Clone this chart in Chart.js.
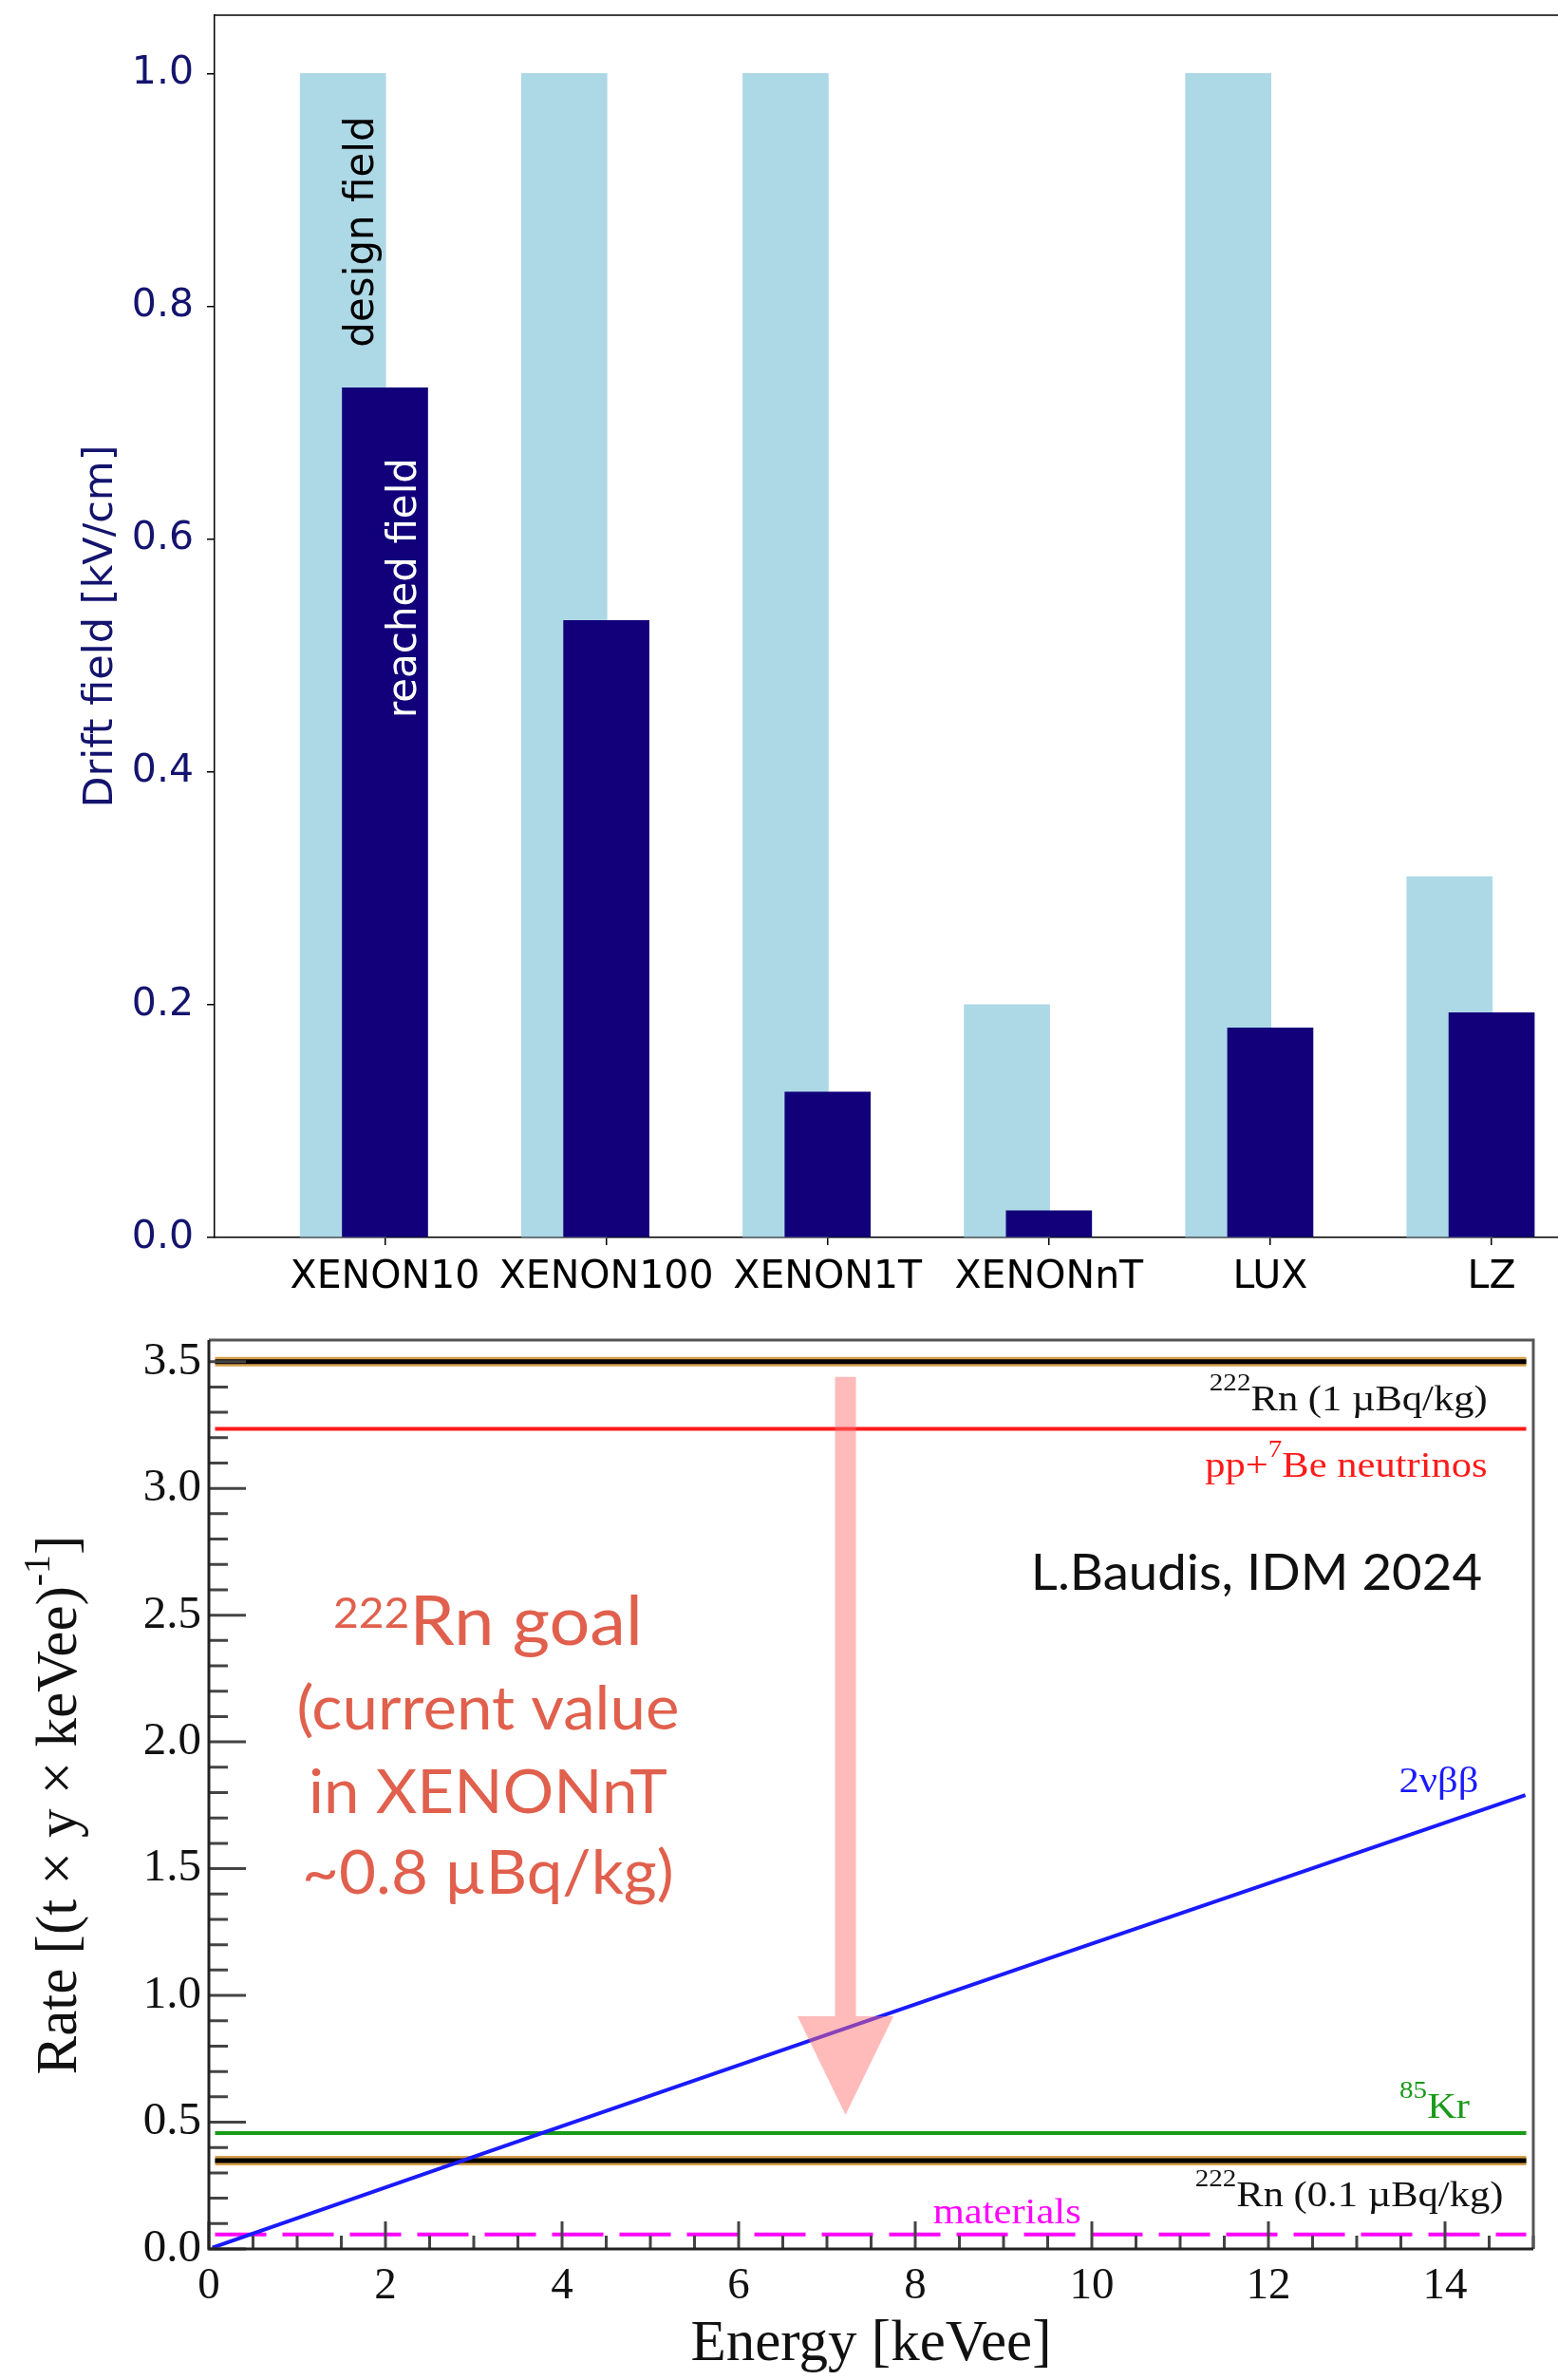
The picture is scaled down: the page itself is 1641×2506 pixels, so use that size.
<!DOCTYPE html>
<html>
<head>
<meta charset="utf-8">
<title>Drift fields and background rates</title>
<script src="https://cdn.jsdelivr.net/npm/chart.js@4.4.1/dist/chart.umd.min.js"></script>
<style>
  html, body { margin: 0; padding: 0; background: #fff; }
  #page { position: relative; width: 1641px; height: 2506px; }
  #fieldBox { position: absolute; left: 0; top: 0; width: 1641px; height: 1380px; }
  #rateBox { position: absolute; left: 0; top: 1380px; width: 1641px; height: 1126px; }
</style>
</head>
<body>
<div id="page">
  <div id="fieldBox"><canvas id="fieldChart"></canvas></div>
  <div id="rateBox"><canvas id="rateChart"></canvas></div>
</div>
<script>
// Drift field per experiment [kV/cm]
const experiments = ['XENON10', 'XENON100', 'XENON1T', 'XENONnT', 'LUX', 'LZ'];
const designField = [1.0, 1.0, 1.0, 0.2, 1.0, 0.31];
const reachedField = [0.73, 0.53, 0.125, 0.023, 0.18, 0.193];
const fieldTicks = [0.0, 0.2, 0.4, 0.6, 0.8, 1.0];

// Background rate [(t x y x keVee)^-1] vs energy [keVee]
const energyTicks = [0, 2, 4, 6, 8, 10, 12, 14];
const rateTicks = [0.0, 0.5, 1.0, 1.5, 2.0, 2.5, 3.0, 3.5];
const flatEnergy = [0.07, 14.92];
const rn222High = [3.5, 3.5];     // 1 uBq/kg
const ppBe7 = [3.235, 3.235];
const kr85 = [0.457, 0.457];
const rn222Low = [0.348, 0.348];  // 0.1 uBq/kg
const materials = [0.057, 0.057];
const bbEnergy = [0.04, 2.87, 3.73, 7.19, 9.59, 12.47, 14.91];
const bbRate = [0.005, 0.348, 0.452, 0.868, 1.155, 1.498, 1.79];

const sans = "'DejaVu Sans', sans-serif";
const serif = "'Liberation Serif', 'Times New Roman', serif";
const slide = "Lato, 'Open Sans', sans-serif";
const navy = '#14146e';

// ---------- helpers ----------
function pts(xs, ys) {
  return xs.map((x, i) => ({x: x, y: ys[i]}));
}

// text with superscript pieces, parts = [[text, isSup], ...]
function drawRich(ctx, parts, x, y, o) {
  ctx.save();
  ctx.translate(x, y);
  if (o.rotate) ctx.rotate(o.rotate);
  ctx.scale(o.scaleX || 1, 1);
  const fontFor = sup => `${sup ? o.supSize : o.size}px ${o.family}`;
  let w = 0;
  parts.forEach(([t, sup]) => {
    ctx.font = fontFor(sup);
    w += ctx.measureText(t).width;
  });
  let cx = o.align === 'right' ? -w : o.align === 'center' ? -w / 2 : 0;
  ctx.fillStyle = o.color;
  ctx.textAlign = 'left';
  ctx.textBaseline = 'alphabetic';
  parts.forEach(([t, sup]) => {
    ctx.font = fontFor(sup);
    ctx.fillText(t, cx, sup ? -o.raise : 0);
    cx += ctx.measureText(t).width;
  });
  ctx.restore();
}

// ---------- top chart: drift field ----------
const fieldNotes = [
  {text: 'design field', x: -0.1, y: 0.864, color: '#000'},
  {text: 'reached field', x: 0.094, y: 0.558, color: '#fff'}
];

const fieldDecor = {
  id: 'fieldDecor',
  afterDatasetsDraw(chart) {
    const {ctx, chartArea, scales: {x, y}} = chart;
    ctx.save();
    ctx.strokeStyle = '#000';
    ctx.lineWidth = 1.5;
    ctx.beginPath();
    ctx.moveTo(chartArea.left, chartArea.top);
    ctx.lineTo(chartArea.right, chartArea.top);
    ctx.stroke();
    ctx.font = `42px ${sans}`;
    ctx.textAlign = 'center';
    ctx.textBaseline = 'middle';
    fieldNotes.forEach(n => {
      ctx.save();
      ctx.translate(x.getPixelForValue(n.x), y.getPixelForValue(n.y));
      ctx.rotate(-Math.PI / 2);
      ctx.fillStyle = n.color;
      ctx.fillText(n.text, 0, 0);
      ctx.restore();
    });
    ctx.restore();
  }
};

new Chart(document.getElementById('fieldChart'), {
  type: 'bar',
  data: {
    datasets: [
      {
        label: 'design field',
        data: designField.map((v, i) => ({x: i - 0.19, y: v})),
        backgroundColor: '#add8e6',
        grouped: false,
        barThickness: 90,
        order: 2
      },
      {
        label: 'reached field',
        data: reachedField.map((v, i) => ({x: i, y: v})),
        backgroundColor: '#12007a',
        grouped: false,
        barThickness: 90,
        order: 1
      }
    ]
  },
  options: {
    responsive: true,
    maintainAspectRatio: false,
    animation: false,
    layout: {padding: {top: 16, left: 0, right: 0, bottom: 0}},
    plugins: {legend: {display: false}, tooltip: {enabled: false}},
    scales: {
      x: {
        type: 'linear',
        min: -0.77,
        max: 5.3,
        offset: false,
        afterBuildTicks: axis => {
          axis.ticks = experiments.map((_, i) => ({value: i}));
        },
        afterFit: axis => {
          axis.height = 77;
          axis.paddingLeft = 0;
          axis.paddingRight = 0;
        },
        grid: {display: true, drawOnChartArea: false, drawTicks: true, tickLength: 8,
               color: '#000', lineWidth: 1.5, offset: false},
        border: {display: true, color: '#000', width: 1.5},
        ticks: {
          font: {family: sans, size: 41},
          color: '#000',
          padding: 10,
          maxRotation: 0,
          autoSkip: false,
          callback: v => experiments[v]
        }
      },
      y: {
        min: 0,
        max: 1.05,
        afterBuildTicks: axis => {
          axis.ticks = fieldTicks.map(v => ({value: v}));
        },
        afterFit: axis => {
          axis.width = 226;
          axis.paddingTop = 0;
          axis.paddingBottom = 0;
        },
        grid: {display: true, drawOnChartArea: false, drawTicks: true, tickLength: 8,
               color: '#000', lineWidth: 1.5},
        border: {display: true, color: '#000', width: 1.5},
        ticks: {
          font: {family: sans, size: 41},
          color: navy,
          padding: 14,
          callback: v => v.toFixed(1)
        },
        title: {
          display: true,
          text: 'Drift field [kV/cm]',
          color: navy,
          font: {family: sans, size: 43},
          padding: {top: 81, bottom: 0}
        }
      }
    }
  },
  plugins: [fieldDecor]
});

// ---------- bottom chart: background rates ----------
const rootStyle = {family: serif, size: 38, supSize: 26, raise: 21, scaleX: 1.12};
const rateNotes = [
  {parts: [['222', true], ['Rn (1 µBq/kg)']], x: 14.48, y: 3.308, color: '#111', align: 'right'},
  {parts: [['pp+'], ['7', true], ['Be neutrinos']], x: 14.48, y: 3.046, color: '#ff1a1a', align: 'right'},
  {parts: [['2νββ']], x: 14.38, y: 1.802, color: '#1a1aff', align: 'right'},
  {parts: [['85', true], ['Kr']], x: 14.28, y: 0.517, color: '#1a9a1a', align: 'right'},
  {parts: [['222', true], ['Rn (0.1 µBq/kg)']], x: 14.66, y: 0.169, color: '#111', align: 'right'},
  {parts: [['materials']], x: 9.04, y: 0.101, color: '#ff00ff', align: 'center'}
];

const goalColor = '#e0604d';
const goalNotes = [
  {parts: [['222', true], ['Rn goal']], y: 2.384, size: 72, supSize: 44, raise: 18},
  {parts: [['(current value']], y: 2.049, size: 64},
  {parts: [['in XENONnT']], y: 1.721, size: 64},
  {parts: [['~0.8 µBq/kg)']], y: 1.401, size: 64}
];
const goalX = 3.16;
const credit = {text: 'L.Baudis, IDM 2024', x: 14.42, y: 2.598};

// pink arrow from the 1 uBq/kg level down towards 0.1 uBq/kg
const arrow = {x: 7.21, from: 3.44, headBase: 0.918, tip: 0.529, shaft: 22, head: 101};

const rateDecor = {
  id: 'rateDecor',
  afterDatasetsDraw(chart) {
    const {ctx, chartArea: a, scales: {x, y}} = chart;
    ctx.save();

    // arrow
    const ax = x.getPixelForValue(arrow.x);
    const y0 = y.getPixelForValue(arrow.from);
    const y1 = y.getPixelForValue(arrow.headBase);
    const y2 = y.getPixelForValue(arrow.tip);
    ctx.fillStyle = 'rgba(255, 110, 110, 0.48)';
    ctx.beginPath();
    ctx.moveTo(ax - arrow.shaft / 2, y0);
    ctx.lineTo(ax + arrow.shaft / 2, y0);
    ctx.lineTo(ax + arrow.shaft / 2, y1);
    ctx.lineTo(ax + arrow.head / 2, y1);
    ctx.lineTo(ax, y2);
    ctx.lineTo(ax - arrow.head / 2, y1);
    ctx.lineTo(ax - arrow.shaft / 2, y1);
    ctx.closePath();
    ctx.fill();

    // inward tick marks
    ctx.strokeStyle = '#444';
    ctx.lineWidth = 3;
    ctx.beginPath();
    for (let i = 0; i <= 35; i++) {
      const py = y.getPixelForValue(i / 10);
      ctx.moveTo(a.left, py);
      ctx.lineTo(a.left + (i % 5 === 0 ? 39 : 20), py);
    }
    for (let i = 0; i <= 30; i++) {
      const px = x.getPixelForValue(i / 2);
      ctx.moveTo(px, a.bottom);
      ctx.lineTo(px, a.bottom - (i % 4 === 0 ? 29 : 14));
    }
    ctx.stroke();

    // frame
    ctx.lineWidth = 3;
    ctx.strokeStyle = '#555';
    ctx.beginPath();
    ctx.moveTo(a.left, a.top);
    ctx.lineTo(a.right, a.top);
    ctx.lineTo(a.right, a.bottom);
    ctx.stroke();
    ctx.strokeStyle = '#222';
    ctx.beginPath();
    ctx.moveTo(a.left, a.top);
    ctx.lineTo(a.left, a.bottom);
    ctx.lineTo(a.right, a.bottom);
    ctx.stroke();

    // curve labels
    rateNotes.forEach(n => {
      drawRich(ctx, n.parts, x.getPixelForValue(n.x), y.getPixelForValue(n.y),
               Object.assign({}, rootStyle, {color: n.color, align: n.align}));
    });

    // slide annotations
    goalNotes.forEach(n => {
      drawRich(ctx, n.parts, x.getPixelForValue(goalX), y.getPixelForValue(n.y), {
        family: slide, size: n.size, supSize: n.supSize || n.size, raise: n.raise || 0,
        scaleX: 1.05, color: goalColor, align: 'center'
      });
    });
    drawRich(ctx, [[credit.text]], x.getPixelForValue(credit.x), y.getPixelForValue(credit.y), {
      family: slide, size: 52, supSize: 52, raise: 0, scaleX: 1.05, color: '#111', align: 'right'
    });

    // y axis title with superscript
    drawRich(ctx, [['Rate [(t × y × keVee)'], ['-1', true], [']']], 80, (a.top + a.bottom) / 2 + 11, {
      family: serif, size: 61, supSize: 40, raise: 28, color: '#111', align: 'center',
      rotate: -Math.PI / 2
    });
    ctx.restore();
  }
};

function flatLine(label, ys, color, width, order, dash) {
  return {
    label: label,
    data: pts(flatEnergy, ys),
    borderColor: color,
    borderWidth: width,
    borderDash: dash || [],
    borderCapStyle: 'butt',
    pointRadius: 0,
    fill: false,
    order: order
  };
}

new Chart(document.getElementById('rateChart'), {
  type: 'line',
  data: {
    datasets: [
      {
        label: '2vbb',
        data: pts(bbEnergy, bbRate),
        borderColor: '#1a1aff',
        borderWidth: 4,
        pointRadius: 0,
        tension: 0,
        fill: false,
        order: 1
      },
      flatLine('222Rn 1 uBq/kg', rn222High, '#000', 5, 2),
      flatLine('222Rn 1 uBq/kg edge', rn222High, '#d6a04c', 10, 3),
      flatLine('pp+7Be neutrinos', ppBe7, '#ff1a1a', 4, 4),
      flatLine('85Kr', kr85, '#179c17', 4, 5),
      flatLine('222Rn 0.1 uBq/kg', rn222Low, '#000', 5, 6),
      flatLine('222Rn 0.1 uBq/kg edge', rn222Low, '#d6a04c', 10, 7),
      flatLine('materials', materials, '#ff00ff', 4, 8, [54, 17])
    ]
  },
  options: {
    responsive: true,
    maintainAspectRatio: false,
    animation: false,
    layout: {padding: {top: 31, right: 26, left: 0, bottom: 0}},
    plugins: {legend: {display: false}, tooltip: {enabled: false}},
    scales: {
      x: {
        type: 'linear',
        min: 0,
        max: 15,
        afterBuildTicks: axis => {
          axis.ticks = energyTicks.map(v => ({value: v}));
        },
        afterFit: axis => {
          axis.height = 138;
          axis.paddingLeft = 0;
          axis.paddingRight = 0;
        },
        grid: {display: false, drawTicks: false},
        border: {display: false},
        ticks: {
          font: {family: serif, size: 47},
          color: '#111',
          padding: 11,
          maxRotation: 0,
          autoSkip: false,
          callback: v => String(v)
        },
        title: {
          display: true,
          text: 'Energy [keVee]',
          color: '#111',
          font: {family: serif, size: 61},
          padding: {top: 0, bottom: 0}
        }
      },
      y: {
        min: 0,
        max: 3.585,
        afterBuildTicks: axis => {
          axis.ticks = rateTicks.map(v => ({value: v}));
        },
        afterFit: axis => {
          axis.width = 220;
          axis.paddingTop = 0;
          axis.paddingBottom = 0;
        },
        grid: {display: false, drawTicks: false},
        border: {display: false},
        ticks: {
          font: {family: serif, size: 49},
          color: '#111',
          padding: 8,
          callback: v => v.toFixed(1)
        }
      }
    }
  },
  plugins: [rateDecor]
});
</script>
</body>
</html>
